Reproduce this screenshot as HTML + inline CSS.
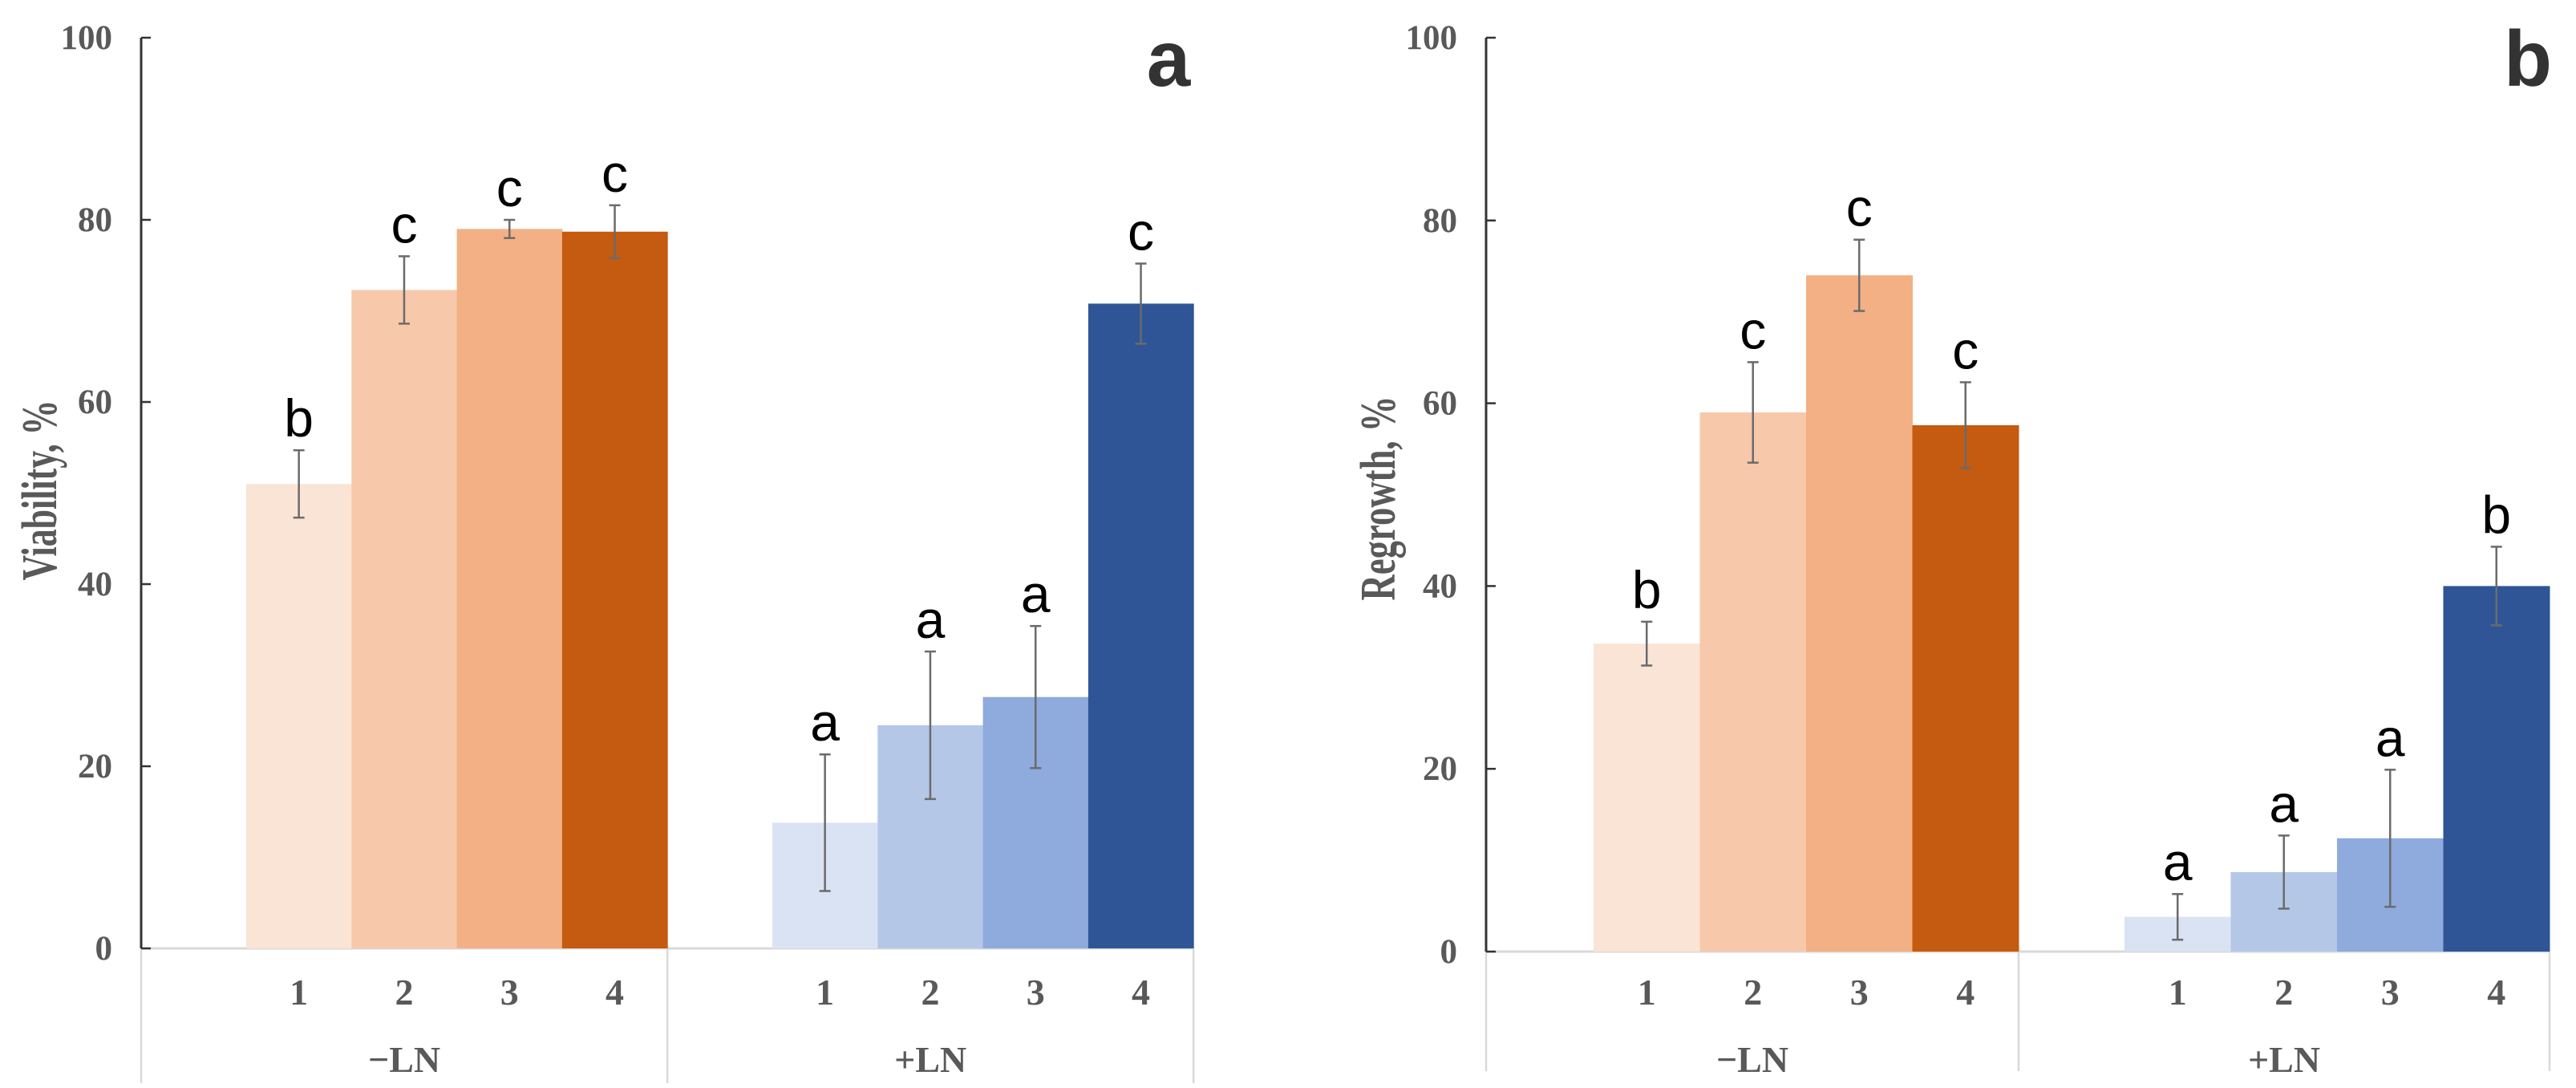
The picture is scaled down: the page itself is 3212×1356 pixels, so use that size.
<!DOCTYPE html>
<html><head><meta charset="utf-8"><style>
html,body{margin:0;padding:0;background:#fff;}
svg{display:block;}
</style></head><body>
<svg id="chart" width="3212" height="1356" xmlns="http://www.w3.org/2000/svg"></svg>
<script>
const categories = ["1","2","3","4"];
const groups = ["\u2212LN","+LN"];
const yTicks = [0,20,40,60,80,100];
const viabilityMinus = [51,72.3,79,78.7];
const viabilityMinusErr = [3.7,3.7,1.0,2.9];
const viabilityPlus = [13.8,24.5,27.6,70.8];
const viabilityPlusErr = [7.5,8.1,7.8,4.4];
const viabilityLetters = ["b","c","c","c","a","a","a","c"];
const regrowthMinus = [33.7,59,74,57.6];
const regrowthMinusErr = [2.4,5.5,3.9,4.7];
const regrowthPlus = [3.8,8.7,12.4,40];
const regrowthPlusErr = [2.5,4.0,7.5,4.3];
const regrowthLetters = ["b","c","c","c","a","a","a","b"];
const orangeColors = ["#fae4d6","#f7c9aa","#f3b084","#c55a11"];
const blueColors = ["#dae3f3","#b4c7e7","#8faadc","#2f5597"];

const svg = document.getElementById('chart');
const NS = 'http://www.w3.org/2000/svg';
function mk(tag, attrs, parent){const e=document.createElementNS(NS,tag);for(const k in attrs)e.setAttribute(k,attrs[k]);(parent||svg).appendChild(e);return e;}

function panel(cfg){
  const g = mk('g',{});
  
  
  const y = v => cfg.y0 - (v/100)*(cfg.y0-cfg.y100);
  const x = (gi, i) => cfg.groupStart[gi] + i*cfg.barW;
  const endA = cfg.groupStart[0]+4*cfg.barW, endB = cfg.groupStart[1]+4*cfg.barW;
  const base = mk('line',{x1:cfg.axisX,y1:cfg.y0,x2:endB,y2:cfg.y0,stroke:'#d9d9d9','stroke-width':3},g);
  
  
  [cfg.axisX, endA, endB].forEach(dx=>{
    const l = mk('line',{x1:dx,y1:cfg.y0,x2:dx,y2:cfg.divEnd,stroke:'#d9d9d9','stroke-width':2.5},g);
    
    
  });
  const series = [[cfg.minus,cfg.minusErr,orangeColors],[cfg.plus,cfg.plusErr,blueColors]];
  series.forEach((s,gi)=>{
    s[0].forEach((v,i)=>{
      const r = mk('rect',{x:x(gi,i),y:y(v),width:cfg.barW+0.5,height:cfg.y0-y(v),fill:s[2][i]},g);
      
      
    });
  });
  series.forEach((s,gi)=>{
    s[0].forEach((v,i)=>{
      const cx = x(gi,i)+cfg.barW/2, e = s[1][i];
      const eg = mk('g',{stroke:'#6b6b6b','stroke-width':2.5},g);
      
      
      mk('line',{x1:cx,y1:y(v+e),x2:cx,y2:y(v-e)},eg);
      mk('line',{x1:cx-7,y1:y(v+e),x2:cx+7,y2:y(v+e)},eg);
      mk('line',{x1:cx-7,y1:y(v-e),x2:cx+7,y2:y(v-e)},eg);
      const t = mk('text',{x:cx,y:y(v+e)-17,'text-anchor':'middle','font-family':'Liberation Sans, sans-serif','font-size':66,fill:'#000'},g);
      t.textContent = cfg.letters[gi*4+i];
      
      
    });
  });
  const ax = mk('line',{x1:cfg.axisX,y1:cfg.y100,x2:cfg.axisX,y2:cfg.y0,stroke:'#333','stroke-width':3},g);
  
  
  yTicks.forEach(tv=>{
    mk('line',{x1:cfg.axisX,y1:y(tv),x2:cfg.axisX+12,y2:y(tv),stroke:'#333','stroke-width':2.5},g);
    const t = mk('text',{x:cfg.axisX-36,y:y(tv)+14,'text-anchor':'end','font-family':'Liberation Serif, serif','font-weight':'bold','font-size':43,fill:'#595959'},g);
    t.textContent = tv;
    
    
  });
  [0,1].forEach(gi=>{
    categories.forEach((c,i)=>{
      const t = mk('text',{x:x(gi,i)+cfg.barW/2,y:1252,'text-anchor':'middle','font-family':'Liberation Serif, serif','font-weight':'bold','font-size':46,fill:'#595959'},g);
      t.textContent = c;
      
      
    });
    const left = gi===0 ? cfg.axisX : endA;
    const right = gi===0 ? endA : endB;
    const t = mk('text',{x:(left+right)/2,y:1336,'text-anchor':'middle','font-family':'Liberation Serif, serif','font-weight':'bold','font-size':46,fill:'#595959'},g);
    t.textContent = groups[gi];
    
    
  });
  const yt = mk('text',{x:0,y:0,transform:`translate(${cfg.titleX},${cfg.titleY}) rotate(-90)`,'text-anchor':'middle','font-family':'Liberation Serif, serif','font-weight':'bold','font-size':62,fill:'#595959',textLength:cfg.titleLen,lengthAdjust:'spacingAndGlyphs'},g);
  yt.textContent = cfg.title;
  
  
  const pl = mk('text',{x:cfg.labelX,y:107,'text-anchor':'middle','font-family':'Liberation Sans, sans-serif','font-weight':'bold','font-size':98,fill:'#333'},g);
  pl.textContent = cfg.panelLabel;
  
  
}

panel({name:'panel-a-viability',axisX:176,y100:47,y0:1182,divEnd:1350,groupStart:[307,963],barW:131.3,
  minus:viabilityMinus,minusErr:viabilityMinusErr,plus:viabilityPlus,plusErr:viabilityPlusErr,
  letters:viabilityLetters,title:'Viability, %',titleX:70,titleY:611,titleLen:225,labelX:1457,panelLabel:'a'});
panel({name:'panel-b-regrowth',axisX:1853,y100:47,y0:1186,divEnd:1335,groupStart:[1987,2649],barW:132.5,
  minus:regrowthMinus,minusErr:regrowthMinusErr,plus:regrowthPlus,plusErr:regrowthPlusErr,
  letters:regrowthLetters,title:'Regrowth, %',titleX:1739,titleY:621,titleLen:255,labelX:3152,panelLabel:'b'});
</script>
</body></html>
